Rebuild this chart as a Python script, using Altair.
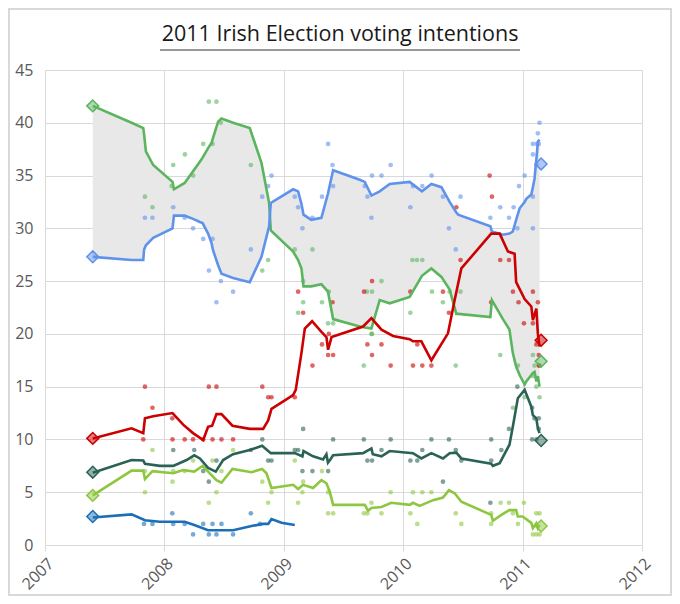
import altair as alt
import pandas as pd

# parties, drawing order (bottom to top) and colours
parties = ["Progressive Democrats", "Green", "Sinn Féin", "Fianna Fáil", "Fine Gael", "Labour"]
party_colors = ["#1b6fb8", "#8dc63f", "#2a6355", "#5bb55e", "#5f92ec", "#cc0000"]

title_text = "2011 Irish Election voting intentions"

# smoothed lines, decimal years -- FF and FG share dates (the grey band sits between them)
ff_fg_dates = [2007.40, 2007.725, 2007.823, 2007.83, 2007.845, 2007.906, 2008.068, 2008.08, 2008.17,
               2008.24, 2008.297, 2008.32, 2008.366, 2008.395, 2008.408, 2008.45, 2008.478, 2008.575,
               2008.715, 2008.813, 2008.877, 2008.891, 2009.078, 2009.12, 2009.148, 2009.165, 2009.23,
               2009.315, 2009.37, 2009.413, 2009.636, 2009.678, 2009.734, 2009.803, 2009.887, 2010.054,
               2010.157, 2010.236, 2010.32, 2010.389, 2010.445, 2010.46, 2010.73, 2010.743, 2010.835,
               2010.89, 2010.918, 2010.946, 2010.975, 2011.017, 2011.031, 2011.073, 2011.086, 2011.10,
               2011.115, 2011.128, 2011.142]
ff_line = [41.6, 40.0, 39.5, 38.9, 37.3, 36.0, 34.4, 33.7, 34.3,
           35.4, 36.3, 36.7, 37.6, 38.1, 38.6, 40.1, 40.4, 40.0,
           39.5, 36.2, 32.4, 29.8, 27.8, 27.0, 26.2, 24.5, 24.5,
           24.7, 24.0, 21.4, 20.7, 20.6, 20.5, 23.2, 22.9, 23.5,
           25.5, 26.2, 25.4, 24.2, 21.9, 21.9, 21.6, 23.2, 21.4,
           20.4, 18.2, 16.9, 16.1, 15.2, 15.5, 16.1, 16.3, 16.4,
           15.5, 16.0, 15.0]
fg_line = [27.3, 27.0, 27.0, 28.0, 28.4, 29.1, 30.0, 31.2, 31.2,
           30.9, 30.6, 30.5, 29.5, 28.6, 27.9, 26.5, 25.7, 25.3,
           24.9, 27.3, 30.2, 32.4, 33.7, 33.5, 32.3, 31.3, 30.8,
           31.0, 33.3, 35.5, 34.6, 34.4, 33.1, 33.5, 34.2, 34.4,
           33.5, 34.2, 33.9, 32.5, 31.5, 31.3, 30.2, 29.7, 29.4,
           29.5, 29.7, 30.8, 31.9, 32.5, 32.8, 33.2, 33.9, 34.7,
           36.5, 38.2, 38.4]

lab_dates = [2007.40, 2007.725, 2007.823, 2007.837, 2007.906, 2008.068, 2008.157, 2008.24, 2008.325,
             2008.366, 2008.40, 2008.436, 2008.478, 2008.57, 2008.715, 2008.827, 2008.869, 2008.897,
             2009.078, 2009.10, 2009.148, 2009.176, 2009.237, 2009.315, 2009.357, 2009.371, 2009.40,
             2009.664, 2009.734, 2009.818, 2009.915, 2010.054, 2010.082, 2010.152, 2010.236, 2010.375,
             2010.431, 2010.487, 2010.737, 2010.808, 2010.877, 2010.933, 2010.946, 2011.017, 2011.073,
             2011.086, 2011.115, 2011.128, 2011.142]
lab_line = [10.1, 11.05, 10.6, 12.0, 12.2, 12.5, 11.4, 10.6, 9.95,
            11.2, 11.3, 12.4, 12.4, 11.3, 11.0, 11.0, 11.8, 12.9,
            14.2, 14.7, 18.2, 20.5, 21.2, 20.2, 19.7, 18.5, 19.7,
            20.7, 21.5, 20.4, 19.8, 19.5, 19.3, 19.3, 17.5, 20.05,
            23.2, 26.2, 29.5, 29.5, 27.8, 27.6, 24.9, 23.3, 22.6,
            21.3, 22.4, 20.0, 18.8]

sf_dates = [2007.40, 2007.725, 2007.823, 2007.837, 2007.962, 2008.074, 2008.186, 2008.25, 2008.297,
            2008.366, 2008.43, 2008.492, 2008.575, 2008.715, 2008.818, 2008.891, 2009.092, 2009.156,
            2009.165, 2009.245, 2009.329, 2009.357, 2009.37, 2009.39, 2009.413, 2009.664, 2009.734,
            2009.745, 2009.818, 2009.887, 2010.082, 2010.152, 2010.236, 2010.333, 2010.389, 2010.445,
            2010.487, 2010.737, 2010.751, 2010.808, 2010.89, 2010.918, 2010.96, 2011.017, 2011.073,
            2011.086, 2011.115, 2011.128, 2011.142]
sf_line = [6.85, 8.05, 8.0, 7.7, 7.5, 7.5, 8.05, 8.5, 8.2,
           7.3, 6.95, 8.05, 8.6, 9.0, 9.4, 8.7, 8.7, 8.4,
           8.9, 8.4, 8.1, 8.6, 7.8, 8.1, 8.5, 8.7, 9.15,
           8.6, 8.4, 8.9, 8.7, 8.2, 8.7, 8.2, 8.7, 8.75,
           8.2, 7.7, 7.5, 7.75, 9.5, 11.2, 13.9, 14.7, 13.1,
           12.3, 12.0, 11.05, 10.6]

gp_dates = [2007.40, 2007.725, 2007.823, 2007.837, 2007.90, 2008.074, 2008.157, 2008.25, 2008.32,
            2008.366, 2008.436, 2008.478, 2008.57, 2008.73, 2008.818, 2008.855, 2008.897, 2009.078,
            2009.12, 2009.162, 2009.245, 2009.315, 2009.357, 2009.385, 2009.413, 2009.678, 2009.705,
            2009.734, 2009.818, 2009.90, 2010.054, 2010.082, 2010.138, 2010.25, 2010.333, 2010.383,
            2010.431, 2010.487, 2010.737, 2010.751, 2010.822, 2010.89, 2010.946, 2010.96, 2011.0,
            2011.073, 2011.086, 2011.115, 2011.128, 2011.142]
gp_line = [4.7, 7.05, 7.05, 6.25, 7.0, 6.8, 7.1, 6.95, 7.5,
           6.95, 6.15, 5.9, 7.2, 6.9, 7.2, 6.8, 5.4, 5.7,
           5.3, 5.7, 5.4, 6.15, 5.85, 5.05, 3.8, 3.8, 3.25,
           3.5, 3.6, 4.0, 3.8, 4.0, 3.7, 4.25, 4.5, 5.2,
           4.9, 4.1, 2.85, 2.3, 2.85, 3.3, 3.3, 2.7, 2.7,
           2.1, 1.6, 2.05, 1.6, 1.9]

pd_dates = [2007.40, 2007.725, 2007.837, 2007.962, 2008.17, 2008.25, 2008.366, 2008.575, 2008.73,
            2008.827, 2008.869, 2008.897, 2008.98, 2009.092]
pd_line = [2.6, 2.9, 2.35, 2.2, 2.2, 1.9, 1.4, 1.4, 1.8,
           2.0, 2.0, 2.45, 2.1, 1.9]

# individual polls
ff_poll_dates = [2007.837, 2007.90, 2008.06, 2008.074, 2008.172, 2008.241, 2008.325, 2008.403, 2008.372,
                 2008.436, 2008.473, 2008.724, 2008.82, 2008.869, 2009.092, 2009.162, 2009.162, 2009.12,
                 2009.24, 2009.32, 2009.371, 2009.377, 2009.413, 2009.67, 2009.697, 2009.734, 2009.739,
                 2009.739, 2009.818, 2010.06, 2010.077, 2010.115, 2010.16, 2010.241, 2010.333, 2010.389,
                 2010.44, 2010.48, 2010.813, 2010.919, 2010.961, 2011.017, 2011.086, 2011.086, 2011.10,
                 2011.115, 2011.142, 2011.142]
ff_polls = [33, 32, 34, 36, 37, 35, 38, 38, 42,
            42, 40, 36, 26, 27, 28, 25, 23, 22,
            28, 23, 21, 24, 21, 17, 24, 20, 24,
            20, 25, 22, 27, 27, 27, 24, 23, 24,
            17, 24, 18, 13, 17, 14, 18, 16, 17,
            15, 14, 17]

fg_poll_dates = [2007.837, 2007.90, 2008.074, 2008.17, 2008.24, 2008.325, 2008.403, 2008.373, 2008.473,
                 2008.575, 2008.436, 2008.724, 2008.819, 2008.869, 2008.897, 2009.092, 2009.12, 2009.156,
                 2009.24, 2009.32, 2009.371, 2009.408, 2009.413, 2009.678, 2009.70, 2009.734, 2009.739,
                 2009.818, 2009.895, 2010.06, 2010.082, 2010.16, 2010.238, 2010.333, 2010.383, 2010.44,
                 2010.48, 2010.73, 2010.813, 2010.886, 2010.925, 2010.956, 2010.97, 2011.017, 2011.086,
                 2011.086, 2011.086, 2011.086, 2011.115, 2011.12, 2011.128, 2011.136, 2011.142]
fg_polls = [31, 31, 32, 31, 30, 29, 29, 26, 25,
            24, 23, 28, 33, 34, 35, 33, 32, 30,
            31, 33, 38, 36, 34, 34, 33, 31, 35,
            35, 36, 32, 34, 34, 35, 33, 30, 28,
            33, 31, 32, 31, 32, 30, 34, 35, 30,
            33, 37, 38, 36, 38, 39, 38, 40]

lab_poll_dates = [2007.823, 2007.837, 2007.90, 2008.066, 2008.068, 2008.17, 2008.24, 2008.325, 2008.372,
                  2008.403, 2008.436, 2008.478, 2008.575, 2008.82, 2008.869, 2008.897, 2009.092, 2009.12,
                  2009.162, 2009.24, 2009.32, 2009.371, 2009.377, 2009.408, 2009.413, 2009.672, 2009.70,
                  2009.739, 2009.739, 2009.818, 2009.895, 2010.06, 2010.082, 2010.118, 2010.16, 2010.236,
                  2010.333, 2010.383, 2010.445, 2010.48, 2010.724, 2010.737, 2010.743, 2010.813, 2010.886,
                  2010.919, 2010.966, 2011.011, 2011.086, 2011.086, 2011.115, 2011.128, 2011.136, 2011.136]
lab_polls = [10, 15, 13, 12, 10, 10, 10, 10, 15,
             10, 15, 10, 10, 15, 14, 14, 14, 24,
             22, 17, 19, 18, 20, 23, 18, 24, 19,
             25, 18, 19, 17, 24, 17, 19, 17, 17,
             24, 22, 32, 27, 35, 23, 33, 27, 27,
             24, 23, 21, 24, 21, 19, 23, 18, 17]

sf_poll_dates = [2008.074, 2008.25, 2008.325, 2008.372, 2008.436, 2008.724, 2008.82, 2008.869, 2008.897,
                 2009.092, 2009.12, 2009.156, 2009.162, 2009.24, 2009.371, 2009.413, 2009.67, 2009.70,
                 2009.739, 2009.818, 2009.895, 2010.06, 2010.118, 2010.16, 2010.236, 2010.333, 2010.383,
                 2010.44, 2010.487, 2010.73, 2010.737, 2010.737, 2010.822, 2010.886, 2010.956, 2011.08,
                 2011.10, 2011.136, 2011.136, 2011.08, 2011.115]
sf_polls = [9, 9, 7, 6, 8, 9, 10, 8, 8,
            9, 9, 7, 11, 7, 7, 10, 10, 8,
            8, 9, 10, 8, 8, 9, 10, 6, 10,
            9, 8, 4, 10, 8, 9, 11, 15, 13,
            12, 12, 11, 10, 10]

gp_poll_dates = [2007.837, 2007.837, 2007.90, 2008.068, 2008.074, 2008.17, 2008.24, 2008.372, 2008.403,
                 2008.436, 2008.478, 2008.575, 2008.82, 2008.869, 2008.897, 2009.092, 2009.12, 2009.156,
                 2009.162, 2009.32, 2009.371, 2009.371, 2009.413, 2009.67, 2009.70, 2009.734, 2009.818,
                 2009.895, 2010.06, 2010.082, 2010.118, 2010.16, 2010.236, 2010.44, 2010.487, 2010.737,
                 2010.737, 2010.816, 2010.886, 2010.919, 2010.961, 2011.011, 2011.086, 2011.115, 2011.115,
                 2011.142, 2011.142]
gp_polls = [7, 5, 9, 6, 7, 7, 8, 4, 8,
            5, 7, 9, 6, 4, 5, 8, 4, 5,
            6, 7, 5, 3, 3, 3, 3, 4, 3,
            5, 3, 5, 2, 5, 5, 3, 2, 3,
            2, 4, 4, 3, 2, 4, 1, 3, 1,
            3, 1]

pd_poll_dates = [2007.829, 2007.90, 2008.066, 2008.074, 2008.17, 2008.24, 2008.325, 2008.372, 2008.403,
                 2008.436, 2008.478, 2008.575, 2008.724, 2008.80]
pd_polls = [2, 2, 3, 2, 2, 1, 2, 1, 2,
            1, 2, 1, 3, 2]

# election results (diamonds)
result_dates = [2007.40] * 6 + [2011.155] * 5
result_parties = ["Fianna Fáil", "Fine Gael", "Labour", "Sinn Féin", "Green", "Progressive Democrats",
                  "Fine Gael", "Labour", "Fianna Fáil", "Sinn Féin", "Green"]
result_values = [41.6, 27.3, 10.1, 6.9, 4.7, 2.7,
                 36.1, 19.4, 17.4, 9.9, 1.8]

lines = {
    "Progressive Democrats": (pd_dates, pd_line),
    "Green": (gp_dates, gp_line),
    "Sinn Féin": (sf_dates, sf_line),
    "Fianna Fáil": (ff_fg_dates, ff_line),
    "Fine Gael": (ff_fg_dates, fg_line),
    "Labour": (lab_dates, lab_line),
}
polls = {
    "Progressive Democrats": (pd_poll_dates, pd_polls),
    "Green": (gp_poll_dates, gp_polls),
    "Sinn Féin": (sf_poll_dates, sf_polls),
    "Fianna Fáil": (ff_poll_dates, ff_polls),
    "Fine Gael": (fg_poll_dates, fg_polls),
    "Labour": (lab_poll_dates, lab_polls),
}


def long_frame(series):
    frames = []
    for party, (d, v) in series.items():
        frames.append(pd.DataFrame({"date": d, "value": v, "party": party}))
    return pd.concat(frames, ignore_index=True)


lines_df = long_frame(lines)
polls_df = long_frame(polls)
band_df = pd.DataFrame({"date": ff_fg_dates, "ff": ff_line, "fg": fg_line})
results_df = pd.DataFrame({"date": result_dates, "party": result_parties, "value": result_values})

FONT = "Open Sans"
GRID = "#d9d9d9"

color_scale = alt.Scale(domain=parties, range=party_colors)

x_enc = alt.X("date:Q", title=None,
              scale=alt.Scale(domain=[2007, 2012], nice=False, zero=False),
              axis=alt.Axis(values=[2007, 2008, 2009, 2010, 2011, 2012], format="d",
                            labelAngle=-45, tickSize=6, labelPadding=4))
y_axis = alt.Axis(values=list(range(0, 50, 5)), ticks=False, domain=False, labelPadding=12)
y_scale = alt.Scale(domain=[0, 45], nice=False)

band = alt.Chart(band_df).mark_area(color="#e8e8e8", opacity=1).encode(
    x=x_enc,
    y=alt.Y("ff:Q", title=None, scale=y_scale, axis=y_axis),
    y2="fg:Q",
)

dots = alt.Chart(polls_df).mark_circle(size=22, opacity=0.6).encode(
    x="date:Q",
    y="value:Q",
    color=alt.Color("party:N", scale=color_scale, legend=None),
)

line_layers = []
for party in parties:
    line_layers.append(
        alt.Chart(lines_df[lines_df["party"] == party]).mark_line(strokeWidth=2.6).encode(
            x="date:Q",
            y="value:Q",
            color=alt.Color("party:N", scale=color_scale, legend=None),
        )
    )

diamonds = alt.Chart(results_df).mark_point(
    shape="diamond", filled=True, size=140, opacity=1, fillOpacity=0.5, strokeWidth=1.5
).encode(
    x="date:Q",
    y="value:Q",
    fill=alt.Fill("party:N", scale=color_scale, legend=None),
    stroke=alt.Stroke("party:N", scale=color_scale, legend=None),
)

# title drawn as text above the plot, with its underline, plus the outer frame
one = pd.DataFrame({"title": [title_text]})
title = alt.Chart(one).mark_text(
    font=FONT, fontSize=21.5, color="#1a1a1a", align="center", baseline="alphabetic"
).encode(
    text="title:N", x=alt.value(295), y=alt.value(-29)
)
underline = alt.Chart(one).mark_rule(color="#333333", strokeWidth=1.2).encode(
    x=alt.value(115), x2=alt.value(475), y=alt.value(-20)
)
frame = alt.Chart(one).mark_rect(fill=None, stroke="#d9d9d9", strokeWidth=2).encode(
    x=alt.value(-36), x2=alt.value(626), y=alt.value(-61), y2=alt.value(525)
)

chart = alt.layer(frame, band, dots, *line_layers, diamonds, title, underline).properties(
    width=597,
    height=475,
    autosize=alt.AutoSizeParams(type="none"),
    padding={"left": 37, "top": 62, "right": 30, "bottom": 51},
).configure_view(
    stroke=GRID
).configure_axis(
    gridColor=GRID,
    domainColor=GRID,
    tickColor=GRID,
    labelColor="#595959",
    labelFont=FONT,
    labelFontSize=16,
)

chart.save("out.html", embed_options={"renderer": "svg", "actions": False})
